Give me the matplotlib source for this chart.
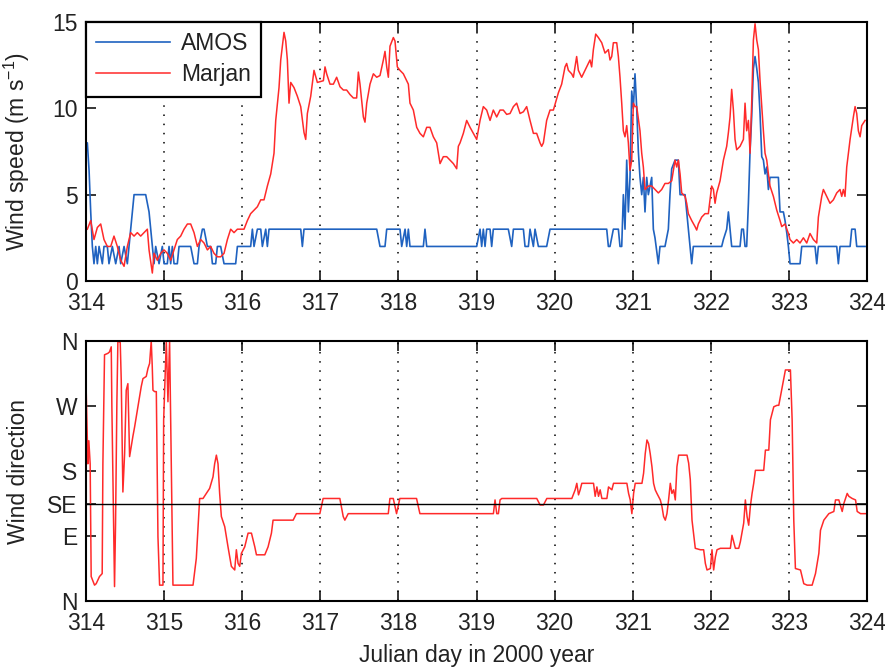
import matplotlib
matplotlib.use("Agg")
import matplotlib.pyplot as plt

plt.rcParams["font.family"] = ["Liberation Sans", "DejaVu Sans"]
plt.rcParams["mathtext.default"] = "regular"

# wind speed, Marjan (m/s)
marjan_t = [314.017, 314.060, 314.102, 314.145, 314.188, 314.230, 314.273, 314.316, 314.358, 314.401,
            314.444, 314.487, 314.529, 314.572, 314.615, 314.657, 314.700, 314.743, 314.785, 314.807,
            314.849, 314.871, 314.913, 314.956, 314.999, 315.041, 315.084, 315.127, 315.169, 315.212,
            315.255, 315.298, 315.340, 315.383, 315.426, 315.468, 315.511, 315.554, 315.596, 315.639,
            315.682, 315.724, 315.767, 315.810, 315.852, 315.895, 315.938, 315.980, 316.023, 316.066,
            316.108, 316.151, 316.194, 316.237, 316.279, 316.322, 316.365, 316.407, 316.429, 316.471,
            316.493, 316.535, 316.557, 316.578, 316.599, 316.621, 316.663, 316.706, 316.749, 316.791,
            316.813, 316.834, 316.877, 316.919, 316.962,
            317.039, 317.060, 317.081, 317.124, 317.167, 317.209, 317.252, 317.295, 317.337, 317.380,
            317.423, 317.465, 317.487, 317.508, 317.551, 317.572, 317.594, 317.636, 317.679, 317.722,
            317.764, 317.807, 317.828, 317.850, 317.871, 317.892, 317.935, 317.956, 317.986, 318.020,
            318.063, 318.106, 318.127, 318.148, 318.191, 318.234, 318.276, 318.319, 318.362, 318.404,
            318.447, 318.490, 318.533, 318.575, 318.618, 318.661, 318.703, 318.746, 318.767, 318.789,
            318.831, 318.874, 318.917, 318.959, 319.002, 319.045, 319.087, 319.130, 319.173, 319.215,
            319.258, 319.301, 319.343, 319.386, 319.429, 319.472, 319.514, 319.557, 319.600, 319.642,
            319.685, 319.728, 319.770, 319.813, 319.834, 319.856, 319.898, 319.941, 319.984,
            320.048, 320.090, 320.133, 320.154, 320.176, 320.218, 320.240, 320.282, 320.304, 320.346,
            320.389, 320.432, 320.453, 320.474, 320.496, 320.526, 320.560, 320.603, 320.645, 320.688,
            320.709, 320.731, 320.752, 320.795, 320.816, 320.837, 320.859, 320.880, 320.901, 320.923,
            320.944, 320.965, 320.987, 321.008, 321.029, 321.051, 321.093, 321.115, 321.136, 321.157,
            321.200, 321.243, 321.285, 321.328, 321.371, 321.413, 321.456, 321.499, 321.542, 321.563,
            321.584, 321.606, 321.627, 321.670, 321.691, 321.712, 321.755, 321.798, 321.819, 321.840,
            321.883, 321.926, 321.968,
            322.011, 322.033, 322.054, 322.075, 322.118, 322.161, 322.203, 322.225, 322.246, 322.267,
            322.289, 322.310, 322.331, 322.374, 322.417, 322.438, 322.459, 322.481, 322.502, 322.523,
            322.545, 322.566, 322.588, 322.609, 322.630, 322.652, 322.673, 322.694, 322.716, 322.737,
            322.758, 322.801, 322.844, 322.886, 322.908, 322.950, 322.993, 323.014, 323.057, 323.100,
            323.142, 323.185, 323.228, 323.270, 323.313, 323.356, 323.377, 323.420, 323.441, 323.484,
            323.526, 323.569, 323.612, 323.654, 323.676, 323.697, 323.718, 323.740, 323.783, 323.825,
            323.847, 323.868, 323.889, 323.911, 323.932, 323.975]
marjan_v = [3.0, 3.5, 2.4, 3.1, 3.3, 2.4, 2.0, 2.0, 2.6, 2.0,
            1.2, 0.85, 2.0, 2.8, 2.6, 2.8, 2.6, 2.8, 3.0, 1.8,
            0.46, 1.6, 1.2, 1.6, 1.8, 1.6, 1.2, 1.8, 2.4, 2.6,
            3.0, 3.3, 3.3, 2.8, 2.0, 2.4, 2.2, 1.8, 2.0, 1.6,
            1.4, 1.4, 1.6, 2.4, 3.0, 2.8, 3.0, 3.0, 3.0, 3.5,
            3.9, 4.1, 4.3, 4.7, 4.7, 5.5, 6.2, 7.4, 9.3, 11.2,
            12.8, 14.4, 13.9, 12.8, 10.3, 11.5, 11.2, 10.7, 10.1, 8.6,
            8.2, 9.7, 10.7, 12.2, 11.5,
            11.6, 12.4, 12.0, 11.4, 11.4, 11.8, 11.25, 11.06, 11.06, 10.8,
            10.6, 10.6, 12.1, 11.4, 9.5, 9.2, 10.3, 11.4, 12.0, 11.8,
            11.9, 12.8, 13.3, 12.4, 11.8, 13.6, 14.1, 13.9, 12.4, 12.2,
            12.0, 11.6, 11.4, 10.3, 9.9, 8.9, 8.55, 8.35, 8.9, 8.9,
            8.35, 8.0, 6.8, 7.2, 7.2, 7.0, 6.8, 6.5, 7.8, 8.0,
            8.55, 9.3, 8.9, 8.55, 8.2, 9.3, 10.1, 9.9, 9.3, 9.9,
            9.5, 9.9, 9.9, 9.65, 9.7, 10.1, 10.3, 9.7, 9.8, 10.1,
            9.3, 8.55, 8.55, 8.0, 7.8, 8.0, 9.3, 9.9, 9.9,
            10.9, 11.4, 12.4, 12.6, 12.2, 12.0, 11.8, 13.0, 12.2, 11.8,
            12.2, 12.6, 12.8, 12.4, 13.4, 14.3, 14.1, 13.8, 13.2, 13.4,
            12.8, 13.0, 13.8, 13.8, 13.0, 11.8, 10.3, 8.7, 8.35, 9.0,
            8.0, 6.4, 7.0, 10.3, 10.1, 10.1, 8.7, 7.4, 6.6, 5.3,
            5.5, 5.5, 5.3, 5.1, 5.3, 5.65, 5.65, 5.8, 7.0, 6.6,
            7.0, 6.2, 5.1, 4.9, 4.5, 3.9, 3.5, 3.15, 2.95, 3.3,
            3.7, 3.9, 3.9,
            5.5, 5.3, 4.5, 5.1, 5.8, 7.0, 7.8, 8.6, 9.5, 11.1,
            9.9, 8.2, 7.6, 7.8, 8.2, 10.3, 8.7, 9.3, 7.4, 10.3,
            13.95, 14.9, 13.95, 13.4, 11.6, 10.1, 8.7, 7.4, 7.0, 6.2,
            5.5, 4.9, 4.1, 3.5, 3.15, 3.3, 2.75, 2.4, 2.2, 2.4,
            2.2, 2.5, 2.2, 2.75, 2.4, 2.2, 3.7, 4.9, 5.3, 4.9,
            4.5, 4.7, 5.1, 5.3, 4.9, 5.3, 4.9, 6.6, 8.2, 9.5,
            10.1, 9.7, 8.7, 8.35, 9.0, 9.3]

# wind speed, AMOS (m/s)
amos_t = [314.000, 314.017, 314.039, 314.060, 314.081, 314.102, 314.124, 314.145, 314.167, 314.209,
          314.230, 314.273, 314.294, 314.337, 314.380, 314.423, 314.444, 314.487, 314.529, 314.572,
          314.593, 314.615, 314.764, 314.807, 314.828, 314.871, 314.892, 314.935, 314.977, 314.999,
          315.041, 315.063, 315.084, 315.105, 315.127, 315.169, 315.191, 315.340, 315.383, 315.426,
          315.447, 315.490, 315.511, 315.554, 315.596, 315.618, 315.660, 315.682, 315.724, 315.767,
          315.916, 315.938, 316.108, 316.130, 316.151, 316.194, 316.237, 316.258, 316.301, 316.322,
          316.343, 316.749, 316.770, 316.791,
          317.722, 317.764, 317.828, 317.850, 318.020, 318.042, 318.085, 318.106, 318.127, 318.148,
          318.319, 318.340, 318.362, 319.002, 319.045, 319.066, 319.087, 319.109, 319.130, 319.173,
          319.194, 319.215, 319.407, 319.450, 319.472, 319.600, 319.621, 319.664, 319.685, 319.728,
          319.749, 319.792, 319.898, 319.941,
          320.667, 320.688, 320.709, 320.752, 320.816, 320.837, 320.859, 320.880, 320.901, 320.923,
          320.944, 320.965, 320.987, 321.008, 321.029, 321.051, 321.072, 321.093, 321.115, 321.136,
          321.157, 321.179, 321.200, 321.243, 321.264, 321.285, 321.328, 321.349, 321.413, 321.456,
          321.477, 321.499, 321.542, 321.584, 321.606, 321.627, 321.670, 321.712, 321.734, 321.755,
          321.776,
          322.139, 322.161, 322.203, 322.225, 322.246, 322.267, 322.374, 322.395, 322.417, 322.438,
          322.459, 322.481, 322.502, 322.523, 322.545, 322.566, 322.588, 322.609, 322.630, 322.652,
          322.673, 322.694, 322.716, 322.737, 322.758, 322.865, 322.886, 322.929, 322.950, 322.972,
          322.993, 323.014, 323.142, 323.164, 323.334, 323.356, 323.377, 323.612, 323.633, 323.654,
          323.783, 323.804, 323.847, 323.868, 323.975]
amos_v = [8, 8, 6.4, 4, 2, 1, 2, 1, 2, 1,
          2, 2, 1, 2, 1, 2, 1, 2, 1, 3,
          4, 5, 5, 4, 3, 1, 2, 1, 2, 1,
          1, 2, 1, 2, 1, 1, 2, 2, 1, 1,
          2, 3, 3, 2, 2, 1, 1, 2, 2, 1,
          1, 2, 2, 3, 2, 3, 3, 2, 3, 2,
          3, 3, 2, 3,
          3, 2, 2, 3, 3, 2, 3, 2, 3, 2,
          2, 3, 2, 2, 3, 2, 3, 2, 3, 3,
          2, 3, 3, 2, 3, 3, 2, 2, 3, 2,
          3, 2, 2, 3,
          3, 2, 2, 3, 3, 2, 2, 5, 3, 7,
          4, 6, 11, 10, 12, 10, 7.5, 6, 5, 6,
          4, 6, 5, 6, 3, 2.5, 1, 2, 2, 3,
          5, 6.5, 7, 7, 5, 5, 5, 3, 2, 1,
          2,
          2, 2.4, 3, 4, 3, 2, 2, 3, 3, 2,
          2, 4.5, 7.5, 9.5, 12.3, 13, 12.3, 11.5, 9.7, 7.2,
          7, 6.2, 6.6, 5.3, 6, 6, 4, 4, 3.5, 2.8,
          2, 1, 1, 2, 2, 1, 2, 2, 1, 2,
          2, 3, 3, 2, 2]

# wind direction, Marjan (degrees)
dir_t = [314.002, 314.024, 314.036, 314.053, 314.066, 314.109, 314.130, 314.173, 314.207, 314.216,
         314.237, 314.280, 314.301, 314.323, 314.331, 314.353, 314.365, 314.378, 314.395, 314.408,
         314.438, 314.451, 314.472, 314.494, 314.515, 314.536, 314.558, 314.579, 314.600, 314.622,
         314.643, 314.686, 314.707, 314.729, 314.771, 314.793, 314.814, 314.835, 314.848, 314.857,
         314.878, 314.900, 314.921, 314.942, 314.985, 314.994, 315.011, 315.028, 315.049, 315.070,
         315.092, 315.113, 315.370, 315.412, 315.455, 315.498, 315.540, 315.583, 315.626, 315.647,
         315.669, 315.690, 315.711, 315.733, 315.776, 315.818, 315.861, 315.904, 315.925, 315.947,
         315.968, 315.989, 316.032, 316.075, 316.118, 316.161, 316.182, 316.289, 316.331, 316.374,
         316.395, 316.652, 316.694, 316.994, 317.036, 317.250, 317.293, 317.314, 317.357, 317.870,
         317.891, 317.934, 317.976, 318.018, 318.232, 318.275, 319.044,
         319.216, 319.237, 319.259, 319.280, 319.301, 319.323, 319.771, 319.814, 319.857, 319.900,
         320.220, 320.263, 320.284, 320.306, 320.327, 320.348, 320.498, 320.519, 320.541, 320.562,
         320.583, 320.605, 320.669, 320.690, 320.733, 320.754, 320.925, 320.947, 320.968, 320.989,
         321.011, 321.032, 321.118, 321.139, 321.160, 321.182, 321.203, 321.224, 321.246, 321.267,
         321.288, 321.310, 321.353, 321.374, 321.395, 321.417, 321.438, 321.459, 321.481, 321.502,
         321.524, 321.545, 321.566, 321.588, 321.695, 321.716, 321.737, 321.759, 321.801, 321.866,
         321.908, 321.930, 321.951, 321.994, 322.015, 322.036, 322.058, 322.079, 322.122, 322.250,
         322.271, 322.293, 322.314, 322.357, 322.378, 322.421, 322.442, 322.464, 322.485, 322.506,
         322.528, 322.549, 322.571, 322.677, 322.699, 322.742, 322.763, 322.806, 322.848, 322.870,
         322.891, 322.934, 322.955, 323.019, 323.041, 323.062, 323.083, 323.148, 323.190, 323.233,
         323.297, 323.340, 323.383, 323.404, 323.447, 323.511, 323.575, 323.596, 323.639, 323.682,
         323.703, 323.746, 323.767, 323.810, 323.853, 323.874, 323.917, 324.002]
dir_v = [292, 190, 222, 190, 34, 22, 24, 34, 38, 190,
         341, 343, 345, 352, 269, 105, 20, 107, 274, 360,
         358, 306, 151, 204, 292, 301, 200, 214, 228, 241,
         255, 283, 297, 308, 311, 322, 329, 360, 325, 292,
         290, 290, 89, 22, 22, 251, 306, 360, 276, 360,
         190, 22, 22, 59, 142, 142, 149, 156, 172, 190,
         202, 190, 149, 117, 103, 75, 48, 43, 71, 52,
         48, 66, 75, 94, 94, 75, 64, 64, 75, 94,
         112, 112, 121, 121, 142, 142, 117, 112, 121, 121,
         142, 142, 121, 142, 142, 121, 121,
         121, 140, 121, 121, 140, 142, 142, 133, 133, 142,
         142, 154, 163, 147, 154, 163, 163, 145, 158, 145,
         154, 142, 142, 158, 154, 163, 163, 149, 140, 121,
         149, 163, 163, 177, 204, 223, 218, 204, 186, 163,
         154, 149, 140, 131, 117, 112, 121, 140, 163, 149,
         154, 140, 186, 202, 202, 191, 168, 112, 73, 71,
         71, 52, 43, 45, 71, 43, 61, 71, 73, 73,
         91, 82, 73, 73, 82, 108, 140, 117, 105, 131,
         149, 163, 181, 181, 209, 209, 251, 269, 271, 271,
         283, 308, 320, 320, 251, 112, 45, 43, 24, 22,
         22, 38, 66, 98, 112, 121, 124, 140, 140, 124,
         135, 149, 145, 142, 140, 124, 121, 121]

days = list(range(314, 325))
dir_ticks = [0, 90, 135, 180, 270, 360]
dir_labels = ["N", "E", "SE", "S", "W", "N"]
se_level = 135

txt = "#222222"
fs = 16.5

fig = plt.figure(figsize=(8.85, 6.69), dpi=100)
ax1 = fig.add_axes([0.0972, 0.580, 0.8825, 0.3871])
ax2 = fig.add_axes([0.0972, 0.1016, 0.8825, 0.3886])

ax1.plot(amos_t, amos_v, color="#1f62c0", lw=1.2, label="AMOS")
ax1.plot(marjan_t, marjan_v, color="#ff2a2a", lw=1.1, label="Marjan")
ax1.set_ylim(0, 15)
ax1.set_yticks([0, 5, 10, 15])
ax1.set_ylabel("Wind speed (m s$^{-1}$)", fontsize=fs, color=txt)
ax1.yaxis.set_label_coords(-0.069, 0.5)
leg = ax1.legend(loc="upper left", fontsize=fs, handlelength=3.2, borderaxespad=0,
                 fancybox=False, framealpha=1, edgecolor="black", labelcolor=txt,
                 borderpad=0.45, labelspacing=0.35, handletextpad=0.5)
leg.get_frame().set_linewidth(1.6)

ax2.plot(dir_t, dir_v, color="#ff2a2a", lw=1.1)
ax2.axhline(se_level, color="black", lw=1.0)
ax2.set_ylim(0, 360)
ax2.set_yticks(dir_ticks)
ax2.set_yticklabels(dir_labels)
ax2.set_ylabel("Wind direction", fontsize=fs, color=txt)
ax2.yaxis.set_label_coords(-0.072, 0.5)
ax2.set_xlabel("Julian day in 2000 year", fontsize=fs, color=txt)
ax2.xaxis.set_label_coords(0.5, -0.165)

for ax in (ax1, ax2):
    ax.set_xlim(314, 324)
    ax.set_xticks(days)
    ax.grid(axis="x", color="black", linestyle=(0, (1, 5)), lw=1.1)
    ax.tick_params(direction="in", top=True, right=True, length=7, width=1.1,
                   labelsize=fs, labelcolor=txt, pad=6)
    ax.tick_params(axis="x", pad=8)
    for sp in ax.spines.values():
        sp.set_linewidth(1.5)

fig.savefig("out.png", dpi=100)
